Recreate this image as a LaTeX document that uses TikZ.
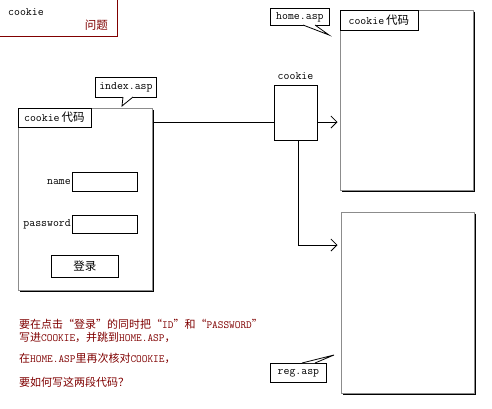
\documentclass[tikz,border=0pt]{standalone}
\usepackage{fontspec}
\newfontfamily\cjk{Noto Sans CJK SC}
\usetikzlibrary{arrows.meta}
\definecolor{dred}{HTML}{800000}
\definecolor{bgray}{HTML}{8C8C8C}
\tikzset{
  lat/.style={font=\fontsize{11.5}{13}\selectfont\ttfamily},
  pagebox/.style={draw=bgray, line width=1pt, fill=white, inner sep=0pt},
  shadowline/.style={black, line width=1.2pt},
  lblbox/.style={draw=black, line width=0.8pt, fill=white, inner sep=0pt, anchor=north west},
  callout/.style={draw=black, line width=0.8pt, fill=white, inner sep=0pt, lat},
  field/.style={draw=black, line width=0.8pt, inner sep=0pt},
  wire/.style={black, line width=0.8pt},
  arr/.style={wire, -{Straight Barb[length=6pt,width=12pt,line width=0.8pt]}},
  redtxt/.style={dred, anchor=west, inner sep=0pt, font=\fontsize{11}{12}\selectfont\cjk},
}
\newcommand{\cz}[1]{{\fontsize{11.5}{13}\selectfont\cjk #1}}
\newcommand{\lt}[1]{{\fontsize{11.5}{13}\selectfont\ttfamily #1}}
\newcommand{\rl}[1]{{\fontsize{11}{12}\selectfont\ttfamily #1}}
\begin{document}
\begin{tikzpicture}[x=1pt,y=-1pt]
\useasboundingbox (0,0) rectangle (492,408);
\fill[white] (0,0) rectangle (492,408);

% top-left note
\node[inner sep=0pt, minimum width=117pt, minimum height=36pt, anchor=north west] (note) at (0,0) {};
\draw[dred, line width=1pt] (note.north east) -- (note.south east) -- (note.south west);
\node[lat, anchor=west, inner sep=0pt] (notea) at (8,12) {cookie};
\node[dred, anchor=east, inner sep=0pt, font=\fontsize{11.5}{13}\selectfont\cjk] (noteb) at (108,25) {问题};

% left page
\node[pagebox, minimum width=134pt, minimum height=182pt] (L) at (85,199) {};
\draw[shadowline] ([xshift=1pt,yshift=-2pt]L.north east) -- ([xshift=1pt,yshift=-1pt]L.south east) -- ([xshift=2pt,yshift=-1pt]L.south west);
\node[lblbox, minimum width=73pt, minimum height=19pt] (Llbl) at (L.north west) {\lt{cookie}\hspace{2pt}\cz{代码}};

% form
\node[field, minimum width=65pt, minimum height=19pt, anchor=north west] (namef) at (72,172) {};
\node[lat, anchor=east, inner sep=1pt] (namel) at (namef.west) {name};
\node[field, minimum width=65pt, minimum height=18pt, anchor=north west] (passf) at (72,215) {};
\node[lat, anchor=east, inner sep=1pt] (passl) at (passf.west) {password};
\node[field, minimum width=67pt, minimum height=22pt, anchor=north west] (btn) at (51,255) {\cz{登录}};

% home page
\node[pagebox, minimum width=133pt, minimum height=180pt] (H) at (406.5,100) {};
\draw[shadowline] ([xshift=1pt,yshift=-2pt]H.north east) -- ([xshift=1pt,yshift=-1pt]H.south east) -- ([xshift=2pt,yshift=-1pt]H.south west);
\node[lblbox, minimum width=78pt, minimum height=20pt] (Hlbl) at (H.north west) {\lt{cookie}\hspace{2pt}\cz{代码}};

% reg page
\node[pagebox, minimum width=133pt, minimum height=181pt] (R) at (407.5,302.5) {};
\draw[shadowline] ([xshift=1pt,yshift=-2pt]R.north east) -- ([xshift=1pt,yshift=-1pt]R.south east) -- ([xshift=2pt,yshift=-1pt]R.south west);

% cookie box
\node[draw=black, line width=0.8pt, fill=white, minimum width=43pt, minimum height=55pt, inner sep=0pt] (C) at (295.5,112.5) {};
\node[lat, inner sep=0pt, anchor=south] (Clbl) at ([yshift=5pt]C.north) {cookie};

% connectors
\draw[wire] (L.east |- 0,122) -- (C.west |- 0,122);
\draw[arr, shorten >=2pt] (C.east |- 0,122) -- (H.west |- 0,122);
\coordinate (cs) at (C.south -| 298,0);
\draw[arr, shorten >=3pt] (cs) |- (R.west |- 0,245);

% callouts
\node[callout, minimum width=59pt, minimum height=17pt, anchor=north west] (hc) at (270,8) {home.asp};
\coordinate (hct) at (329,35);
\fill[white] (303,25) -- (hct) -- (315,25) -- cycle;
\draw[wire] (303,25) -- (hct) -- (315,25);

\node[callout, minimum width=61pt, minimum height=20pt, anchor=north west] (ic) at (95,77) {index.asp};
\coordinate (ict) at (122,106);
\fill[white] (123,97) -- (ict) -- (133,97) -- cycle;
\draw[wire] (123,97) -- (ict) -- (133,97);

\node[callout, minimum width=56pt, minimum height=19pt, anchor=north west] (rc) at (270,363) {reg.asp};
\coordinate (rct) at (334,355);
\fill[white] (302,363) -- (rct) -- (315,363) -- cycle;
\draw[wire] (302,363) -- (rct) -- (315,363);

% question text
\node[redtxt] (q1) at (19,324) {要在点击“登录”的同时把“{\rl{ID}}”和“{\rl{PASSWORD}}”};
\node[redtxt] (q2) at (19,337.5) {写进{\rl{COOKIE}}，并跳到{\rl{HOME.ASP}}，};
\node[redtxt] (q3) at (19,358) {在{\rl{HOME.ASP}}里再次核对{\rl{COOKIE}}，};
\node[redtxt] (q4) at (19,382) {要如何写这两段代码？};
\end{tikzpicture}
\end{document}
